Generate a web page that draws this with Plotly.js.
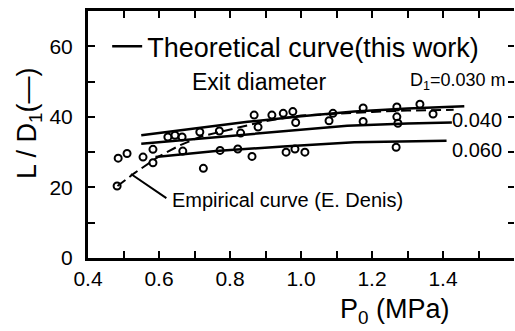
<!DOCTYPE html>
<html>
<head>
<meta charset="utf-8">
<script src="https://cdn.plot.ly/plotly-3.0.1.min.js"></script>
<style>html,body{margin:0;padding:0;background:#fff;}</style>
</head>
<body>
<div id="chart" style="width:515px;height:331px;"></div>
<script>
// Theoretical curves (this work), one per exit diameter D1
const theoP030 = [0.55, 0.70, 0.85, 1.00, 1.15, 1.30, 1.46];
const theoL030 = [34.8, 36.7, 38.6, 40.2, 41.5, 42.4, 43.0];
const theoP040 = [0.55, 0.76, 0.95, 1.13, 1.30, 1.425];
const theoL040 = [32.4, 34.3, 36.0, 37.5, 38.1, 38.4];
const theoP060 = [0.59, 0.76, 0.95, 1.15, 1.41];
const theoL060 = [28.6, 30.3, 31.6, 32.8, 33.2];

// Empirical curve (E. Denis)
const empP = [0.483, 0.53, 0.60, 0.66, 0.72, 0.80, 0.90, 1.00, 1.10, 1.20, 1.30, 1.43];
const empL = [20.4, 24.0, 28.8, 32.0, 34.5, 36.5, 38.8, 40.4, 41.0, 41.4, 41.8, 42.0];

// Experimental points
const expP = [0.482, 0.485, 0.51, 0.555, 0.583, 0.583, 0.625, 0.645, 0.665, 0.667, 0.715, 0.725,
              0.77, 0.772, 0.822, 0.83, 0.862, 0.868, 0.879, 0.918, 0.95, 0.977, 0.985, 0.958,
              0.983, 1.011, 1.079, 1.09, 1.175, 1.175, 1.27, 1.27, 1.273, 1.268, 1.335, 1.372];
const expL = [20.4, 28.3, 29.6, 28.6, 30.8, 27.0, 34.3, 34.8, 34.3, 30.3, 35.7, 25.4,
              36.0, 30.5, 30.9, 35.4, 28.8, 40.5, 37.1, 40.5, 41.0, 41.5, 38.4, 30.0,
              30.9, 30.0, 38.9, 41.0, 42.5, 38.7, 42.8, 40.0, 38.2, 31.4, 43.6, 40.8];

// Axis ticks
const xTickVals = [0.4, 0.6, 0.8, 1.0, 1.2, 1.4];
const xTickText = ['0.4', '0.6', '0.8', '1.0', '1.2', '1.4'];
const yTickVals = [0, 20, 40, 60];
const yTickText = ['0', '20', '40', '60'];
const yRightTickVals = [10, 20, 30, 40, 50, 60];

// Labels
const legendLabel = 'Theoretical curve(this work)';
const exitLabel = 'Exit diameter';
const diamLabels = ['D<sub>1</sub>=0.030 m', '0.040', '0.060'];
const empLabel = 'Empirical curve (E. Denis)';
const xTitle = 'P<sub>0</sub> (MPa)';
const yTitle = 'L / D<sub>1</sub>(—)';

const FONT = 'Liberation Sans, Arial, sans-serif';
const lineStyle = {color: 'black', width: 2.5};

const traces = [
  {x: theoP030, y: theoL030, mode: 'lines', line: lineStyle, name: legendLabel, showlegend: true},
  {x: theoP040, y: theoL040, mode: 'lines', line: lineStyle, showlegend: false},
  {x: theoP060, y: theoL060, mode: 'lines', line: lineStyle, showlegend: false, yaxis: 'y2'},
  {x: empP, y: empL, mode: 'lines', line: {color: 'black', width: 2, dash: '10px,5px'}, showlegend: false},
  {x: expP, y: expL, mode: 'markers', showlegend: false,
   marker: {symbol: 'circle-open', size: 7, color: 'black', line: {width: 2, color: 'black'}}}
];

const layout = {
  width: 515, height: 331,
  margin: {l: 88, r: 1, t: 11, b: 73},
  paper_bgcolor: 'white', plot_bgcolor: 'white',
  font: {family: FONT, color: 'black', size: 20},
  showlegend: true,
  legend: {x: 0.045, y: 0.855, xanchor: 'left', yanchor: 'middle',
           bgcolor: 'rgba(0,0,0,0)', font: {size: 27, family: FONT, color: 'black'},
           itemwidth: 30},
  xaxis: {
    range: [0.4, 1.6], showgrid: false, zeroline: false,
    showline: true, linewidth: 3, linecolor: 'black', mirror: 'ticks',
    ticks: 'inside', ticklen: 7, tickwidth: 2, tickcolor: 'black',
    tickmode: 'array', tickvals: xTickVals, ticktext: xTickText,
    minor: {tick0: 0.4, dtick: 0.1, ticks: 'inside', ticklen: 7, tickwidth: 2, tickcolor: 'black', showgrid: false},
    tickfont: {size: 21, family: FONT, color: 'black'}
  },
  yaxis: {
    range: [0, 70], showgrid: false, zeroline: false,
    showline: true, linewidth: 3, linecolor: 'black',
    ticks: 'inside', ticklen: 7, tickwidth: 2, tickcolor: 'black',
    tickmode: 'array', tickvals: yTickVals, ticktext: yTickText,
    minor: {tick0: 0, dtick: 10, ticks: 'inside', ticklen: 7, tickwidth: 2, tickcolor: 'black', showgrid: false},
    ticklabelstandoff: 8,
    tickfont: {size: 21, family: FONT, color: 'black'}
  },
  yaxis2: {
    range: [0, 70], overlaying: 'y', side: 'right', anchor: 'x',
    showgrid: false, zeroline: false, showline: false, showticklabels: false,
    ticks: 'inside', ticklen: 6, tickwidth: 2, tickcolor: 'black',
    tickmode: 'array', tickvals: yRightTickVals
  },
  annotations: [
    {text: exitLabel, xref: 'x', yref: 'y', x: 0.687, y: 49.9, xanchor: 'left', yanchor: 'middle',
     showarrow: false, font: {size: 23, family: FONT}},
    {text: diamLabels[0], xref: 'x', yref: 'y', x: 1.30, y: 49.9, xanchor: 'left', yanchor: 'middle',
     showarrow: false, font: {size: 18, family: FONT}},
    {text: diamLabels[1], xref: 'x', yref: 'y', x: 1.42, y: 39.1, xanchor: 'left', yanchor: 'middle',
     showarrow: false, font: {size: 20, family: FONT}},
    {text: diamLabels[2], xref: 'x', yref: 'y', x: 1.42, y: 30.6, xanchor: 'left', yanchor: 'middle',
     showarrow: false, font: {size: 20, family: FONT}},
    {text: '', xref: 'x', yref: 'y', x: 0.521, y: 23.8, axref: 'x', ayref: 'y', ax: 0.625, ay: 16.7,
     showarrow: true, arrowhead: 0, arrowwidth: 2, arrowcolor: 'black', standoff: 0, startstandoff: 0},
    {text: empLabel, xref: 'x', yref: 'y', x: 0.632, y: 16.4, xanchor: 'left', yanchor: 'middle',
     showarrow: false, font: {size: 20, family: FONT}},
    {text: xTitle, xref: 'x', yref: 'paper', x: 1.265, y: -0.292, xanchor: 'center', yanchor: 'bottom',
     showarrow: false, font: {size: 27, family: FONT}},
    {text: yTitle, xref: 'paper', yref: 'paper', x: -0.1385, y: 0.5466, xanchor: 'center', yanchor: 'middle',
     textangle: -90, showarrow: false, font: {size: 27, family: FONT}}
  ]
};

Plotly.newPlot('chart', traces, layout, {displayModeBar: false, staticPlot: true});
</script>
</body>
</html>
